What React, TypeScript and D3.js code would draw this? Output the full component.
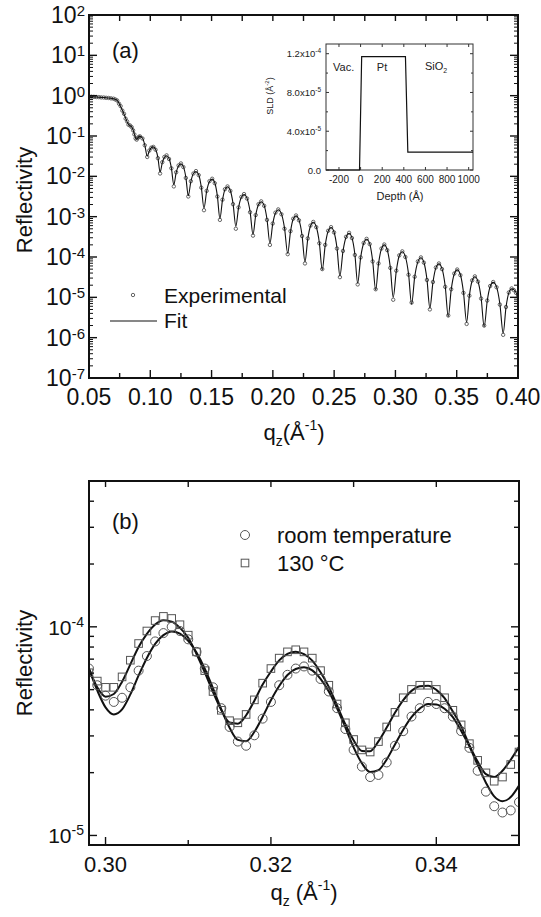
import React from "react";
import * as d3 from "d3";

const FONT = "'Liberation Sans', Arial, Helvetica, sans-serif";

// ---------------- Panel (a): reflectivity vs qz ----------------
const qA = [0.0500,0.0520,0.0540,0.0560,0.0580,0.0600,0.0620,0.0640,0.0660,0.0680,0.0700,0.0715,0.0730,
0.0745,0.0758,0.0772,0.0786,0.0799,0.0811,0.0822,0.0835,0.0848,0.0860,0.0870,0.0880,0.0889,0.0898,0.0907,
0.0916,0.0936,0.0955,0.0975,0.0992,0.1008,
0.1025,0.1043,0.1062,0.1080,0.1098,0.1115,
0.1133,0.1153,0.1172,0.1192,0.1211,0.1231,
0.1250,0.1270,0.1290,0.1310,0.1331,0.1352,
0.1373,0.1395,0.1416,0.1438,0.1460,0.1483,
0.1505,0.1526,0.1547,0.1568,0.1589,0.1609,
0.1630,0.1653,0.1675,0.1698,0.1720,0.1743,
0.1765,0.1789,0.1814,0.1838,0.1860,0.1883,
0.1905,0.1929,0.1952,0.1976,0.1999,0.2021,
0.2044,0.2070,0.2095,0.2121,0.2144,0.2166,
0.2189,0.2213,0.2238,0.2262,0.2285,0.2307,
0.2330,0.2354,0.2379,0.2403,0.2427,0.2451,
0.2475,0.2499,0.2523,0.2547,0.2572,0.2597,
0.2622,0.2645,0.2669,0.2692,0.2716,0.2741,
0.2765,0.2790,0.2814,0.2839,0.2862,0.2886,
0.2909,0.2933,0.2958,0.2982,0.3007,0.3031,
0.3056,0.3081,0.3107,0.3132,0.3157,0.3183,
0.3208,0.3232,0.3257,0.3281,0.3306,0.3330,
0.3355,0.3380,0.3406,0.3431,0.3455,0.3480,
0.3504,0.3530,0.3555,0.3581,0.3603,0.3626,
0.3648,0.3673,0.3699,0.3724,0.3749,0.3773,
0.3798,0.3825,0.3852,0.3879,0.3902,0.3925,
0.3948,0.3966,0.3984,0.4000];

// log10(reflectivity) of the fit
const fitLog10A = [-0.025,-0.028,-0.031,-0.034,-0.038,-0.042,-0.047,-0.052,-0.058,-0.066,-0.076,-0.092,-0.118,
-0.19,-0.27,-0.36,-0.46,-0.56,-0.65,-0.71,-0.745,-0.775,-0.85,-0.95,-1.05,-1.08,-1.05,-1.02,
-1.01,-1.05,-1.22,-1.50,-1.37,-1.29,
-1.27,-1.33,-1.53,-1.90,-1.66,-1.53,
-1.49,-1.56,-1.79,-2.21,-1.91,-1.74,
-1.69,-1.76,-2.02,-2.48,-2.13,-1.93,
-1.88,-1.96,-2.26,-2.79,-2.37,-2.13,
-2.07,-2.16,-2.48,-3.05,-2.59,-2.33,
-2.26,-2.35,-2.67,-3.24,-2.78,-2.52,
-2.45,-2.54,-2.87,-3.44,-2.97,-2.70,
-2.63,-2.72,-3.06,-3.66,-3.18,-2.91,
-2.83,-2.93,-3.28,-3.91,-3.37,-3.06,
-2.98,-3.08,-3.46,-4.12,-3.55,-3.23,
-3.14,-3.25,-3.64,-4.32,-3.71,-3.36,
-3.27,-3.38,-3.77,-4.47,-3.86,-3.51,
-3.41,-3.52,-3.93,-4.65,-4.02,-3.66,
-3.56,-3.67,-4.09,-4.82,-4.17,-3.80,
-3.70,-3.82,-4.25,-5.00,-4.35,-3.97,
-3.87,-3.99,-4.42,-5.17,-4.50,-4.12,
-4.02,-4.13,-4.55,-5.27,-4.63,-4.27,
-4.17,-4.29,-4.72,-5.48,-4.81,-4.42,
-4.32,-4.44,-4.87,-5.62,-4.97,-4.59,
-4.49,-4.60,-5.01,-5.73,-5.09,-4.73,
-4.63,-4.74,-5.16,-5.89,-5.25,-4.89,
-4.79,-4.81,-4.88,-4.98];

// log10(reflectivity) of the experimental points
const expLog10A = [-0.022,-0.027,-0.030,-0.035,-0.037,-0.043,-0.046,-0.053,-0.057,-0.067,-0.075,-0.094,-0.120,
-0.20,-0.26,-0.37,-0.45,-0.57,-0.64,-0.72,-0.74,-0.78,-0.86,-0.96,-1.06,-1.09,-1.05,-1.02,
-1.01,-1.06,-1.23,-1.52,-1.36,-1.29,
-1.27,-1.34,-1.55,-1.93,-1.65,-1.52,
-1.48,-1.57,-1.80,-2.25,-1.90,-1.73,
-1.68,-1.77,-2.04,-2.50,-2.12,-1.93,
-1.87,-1.97,-2.28,-2.84,-2.36,-2.12,
-2.06,-2.17,-2.50,-3.08,-2.58,-2.32,
-2.25,-2.36,-2.69,-3.30,-2.77,-2.51,
-2.44,-2.55,-2.89,-3.47,-2.96,-2.69,
-2.62,-2.73,-3.08,-3.70,-3.17,-2.90,
-2.82,-2.94,-3.30,-3.93,-3.36,-3.05,
-2.97,-3.09,-3.48,-4.16,-3.54,-3.22,
-3.13,-3.26,-3.66,-4.30,-3.70,-3.35,
-3.26,-3.39,-3.79,-4.50,-3.85,-3.50,
-3.40,-3.53,-3.95,-4.68,-4.01,-3.65,
-3.55,-3.68,-4.11,-4.80,-4.16,-3.79,
-3.69,-3.83,-4.27,-5.06,-4.34,-3.96,
-3.86,-4.00,-4.44,-5.13,-4.49,-4.11,
-4.01,-4.14,-4.57,-5.30,-4.62,-4.26,
-4.16,-4.30,-4.74,-5.45,-4.80,-4.41,
-4.31,-4.45,-4.89,-5.66,-4.96,-4.58,
-4.48,-4.61,-5.03,-5.70,-5.08,-4.72,
-4.62,-4.75,-5.18,-5.93,-5.24,-4.88,
-4.78,-4.82,-4.89,-4.97];

const xTicksA = [0.05, 0.10, 0.15, 0.20, 0.25, 0.30, 0.35, 0.40];
const xTickLabelsA = ["0.05", "0.10", "0.15", "0.20", "0.25", "0.30", "0.35", "0.40"];
const xMinorA = [0.075, 0.125, 0.175, 0.225, 0.275, 0.325, 0.375];
const yExponentsA = [2, 1, 0, -1, -2, -3, -4, -5, -6, -7];

// ---------------- Inset: SLD profile ----------------
const depthIn = [-320, -10, 10, 415, 437, 1040];
const sldIn = [0, 0, 1.17e-4, 1.17e-4, 1.85e-5, 1.85e-5];
const xTicksIn = [-200, 0, 200, 400, 600, 800, 1000];
const yTicksIn = [0, 4e-5, 8e-5, 1.2e-4];
const yTickMantIn = ["0.0", "4.0x10", "8.0x10", "1.2x10"];
const yTickExpIn = ["", "-5", "-5", "-4"];
const yMinorIn = [2e-5, 6e-5, 1e-4];

// ---------------- Panel (b) ----------------
const qB = [0.298,0.299,0.300,0.301,0.302,0.303,0.304,0.305,0.306,0.307,0.308,0.309,0.310,0.311,0.312,0.313,0.314,0.315,0.316,0.317,0.318,0.319,0.320,0.321,0.322,0.323,0.324,0.325,0.326,0.327,0.328,0.329,0.330,0.331,0.332,0.333,0.334,0.335,0.336,0.337,0.338,0.339,0.340,0.341,0.342,0.343,0.344,0.345,0.346,0.347,0.348,0.349,0.350];

const rtExpLog10B = [-4.20,-4.28,-4.33,-4.36,-4.34,-4.29,-4.21,-4.14,-4.07,-4.03,-4.00,-4.02,-4.06,-4.12,-4.20,-4.29,-4.39,-4.48,-4.55,-4.57,-4.52,-4.44,-4.36,-4.28,-4.23,-4.20,-4.19,-4.21,-4.25,-4.31,-4.39,-4.49,-4.59,-4.67,-4.72,-4.71,-4.65,-4.57,-4.50,-4.43,-4.39,-4.36,-4.37,-4.39,-4.43,-4.50,-4.58,-4.69,-4.79,-4.86,-4.89,-4.88,-4.84];

const htExpLog10B = [-4.22,-4.26,-4.29,-4.29,-4.24,-4.16,-4.08,-4.02,-3.97,-3.95,-3.96,-3.99,-4.04,-4.12,-4.21,-4.31,-4.40,-4.45,-4.46,-4.42,-4.35,-4.27,-4.20,-4.15,-4.12,-4.11,-4.12,-4.15,-4.21,-4.28,-4.37,-4.46,-4.54,-4.59,-4.60,-4.55,-4.48,-4.41,-4.34,-4.30,-4.28,-4.28,-4.30,-4.34,-4.40,-4.47,-4.56,-4.64,-4.70,-4.74,-4.72,-4.66,-4.60];

const rtFitLog10B = [-4.202,-4.305,-4.386,-4.420,-4.396,-4.324,-4.233,-4.149,-4.082,-4.040,-4.022,-4.033,-4.067,-4.123,-4.200,-4.295,-4.396,-4.484,-4.542,-4.548,-4.503,-4.431,-4.352,-4.284,-4.231,-4.202,-4.194,-4.209,-4.250,-4.310,-4.391,-4.482,-4.578,-4.654,-4.696,-4.687,-4.636,-4.564,-4.493,-4.433,-4.392,-4.370,-4.372,-4.393,-4.433,-4.498,-4.573,-4.662,-4.747,-4.813,-4.836,-4.816,-4.761];

const htFitLog10B = [-4.200,-4.290,-4.335,-4.322,-4.263,-4.180,-4.097,-4.034,-3.989,-3.968,-3.975,-4.005,-4.052,-4.130,-4.218,-4.313,-4.399,-4.459,-4.464,-4.424,-4.354,-4.277,-4.214,-4.161,-4.130,-4.119,-4.131,-4.162,-4.218,-4.288,-4.377,-4.467,-4.544,-4.595,-4.596,-4.549,-4.483,-4.412,-4.351,-4.307,-4.285,-4.282,-4.302,-4.342,-4.406,-4.476,-4.567,-4.646,-4.706,-4.720,-4.690,-4.637,-4.575];

const xTicksB = [0.30, 0.32, 0.34];
const xTickLabelsB = ["0.30", "0.32", "0.34"];
const xMinorB = [0.31, 0.33];
const yExponentsB = [-4, -5];
const legendB = ["room temperature", "130 \u00B0C"];

function logMinor(lo: number, hi: number) {
  const out: number[] = [];
  for (let e = Math.floor(Math.log10(lo)) - 1; e <= Math.ceil(Math.log10(hi)); e++) {
    for (let k = 2; k <= 9; k++) {
      const v = k * Math.pow(10, e);
      if (v > lo * 1.0001 && v < hi * 0.9999) out.push(v);
    }
  }
  return out;
}

export default function App() {
  const lineMono = d3.line<[number, number]>().curve(d3.curveMonotoneX);
  const lineLin = d3.line<[number, number]>();

  // panel a
  const aL = 89, aR = 518, aT = 15, aB = 378;
  const xA = d3.scaleLinear().domain([0.05, 0.4]).range([aL, aR]);
  const yA = d3.scaleLog().domain([1e-7, 1e2]).range([aB, aT]);
  const fitPathA = lineMono(qA.map((q, i) => [xA(q), yA(Math.pow(10, fitLog10A[i]))] as [number, number])) || "";
  const minorA = logMinor(1e-7, 1e2);

  // inset
  const iL = 326, iR = 473, iT = 44, iB = 170;
  const xI = d3.scaleLinear().domain([-320, 1040]).range([iL, iR]);
  const yI = d3.scaleLinear().domain([0, 1.3e-4]).range([iB, iT]);
  const sldPath = lineLin(depthIn.map((d, i) => [xI(d), yI(sldIn[i])] as [number, number])) || "";

  // panel b
  const bL = 89, bR = 519, bT = 481, bB = 845;
  const xB = d3.scaleLinear().domain([0.298, 0.35]).range([bL, bR]);
  const yB = d3.scaleLog().domain([9e-6, 5e-4]).range([bB, bT]);
  const rtFitPath = lineMono(qB.map((q, i) => [xB(q), yB(Math.pow(10, rtFitLog10B[i]))] as [number, number])) || "";
  const htFitPath = lineMono(qB.map((q, i) => [xB(q), yB(Math.pow(10, htFitLog10B[i]))] as [number, number])) || "";
  const minorB = logMinor(9e-6, 5e-4);

  const tk = { stroke: "#111", strokeWidth: 1.4 };

  return (
    <svg width={541} height={917} viewBox="0 0 541 917"
      style={{ position: "absolute", left: 0, top: 0, background: "#fff" }}
      fontFamily={FONT}>
      <defs>
        <clipPath id="clipA"><rect x={aL} y={aT} width={aR - aL} height={aB - aT} /></clipPath>
        <clipPath id="clipB"><rect x={bL} y={bT} width={bR - bL} height={bB - bT} /></clipPath>
      </defs>
      <rect x={0} y={0} width={541} height={917} fill="#fff" />

      {/* ============ PANEL A ============ */}
      <g clipPath="url(#clipA)">
        {qA.map((q, i) => (
          <circle key={"ea" + i} cx={xA(q)} cy={yA(Math.pow(10, expLog10A[i]))} r={1.7}
            fill="none" stroke="#555" strokeWidth={0.9} />
        ))}
        <path d={fitPathA} fill="none" stroke="#111" strokeWidth={1.1} />
      </g>

      {/* ticks A */}
      {xTicksA.map((t, i) => (
        <g key={"xta" + i}>
          <line x1={xA(t)} x2={xA(t)} y1={aB} y2={aB - 8} {...tk} />
          <line x1={xA(t)} x2={xA(t)} y1={aT} y2={aT + 6} {...tk} />
          <text x={xA(t)} y={405} fontSize={23} textAnchor="middle" fill="#111">{xTickLabelsA[i]}</text>
        </g>
      ))}
      {xMinorA.map((t, i) => (
        <g key={"xma" + i}>
          <line x1={xA(t)} x2={xA(t)} y1={aB} y2={aB - 5} {...tk} />
          <line x1={xA(t)} x2={xA(t)} y1={aT} y2={aT + 6} {...tk} />
        </g>
      ))}
      {yExponentsA.map((e, i) => {
        const yy = yA(Math.pow(10, e));
        return (
          <g key={"yta" + i}>
            <line x1={aL} x2={aL + 8} y1={yy} y2={yy} {...tk} />
            <line x1={aR} x2={aR - 8} y1={yy} y2={yy} {...tk} />
            <text x={85} y={yy + 8} fontSize={23} textAnchor="end" fill="#111">
              10<tspan fontSize={15} dy={-7}>{String(e)}</tspan>
            </text>
          </g>
        );
      })}
      {minorA.map((v, i) => (
        <g key={"yma" + i}>
          <line x1={aL} x2={aL + 4} y1={yA(v)} y2={yA(v)} stroke="#111" strokeWidth={1} />
          <line x1={aR} x2={aR - 4} y1={yA(v)} y2={yA(v)} stroke="#111" strokeWidth={1} />
        </g>
      ))}
      <rect x={aL} y={aT} width={aR - aL} height={aB - aT} fill="none" stroke="#111" strokeWidth={2} />

      <text x={112} y={58} fontSize={22} fill="#111">(a)</text>

      {/* legend A */}
      <circle cx={133} cy={295} r={1.7} fill="none" stroke="#555" strokeWidth={0.9} />
      <text x={164} y={303} fontSize={21} fill="#111">Experimental</text>
      <line x1={110} x2={157} y1={321} y2={321} stroke="#111" strokeWidth={1.1} />
      <text x={164} y={328} fontSize={21} fill="#111">Fit</text>

      {/* axis titles A */}
      <text transform={`translate(32,200) rotate(-90)`} fontSize={22} textAnchor="middle" fill="#111">Reflectivity</text>
      <text x={294} y={440} fontSize={22} textAnchor="middle" fill="#111">
        q<tspan fontSize={14} dy={6}>z</tspan><tspan dy={-6}>(Å</tspan><tspan fontSize={14} dy={-10}>-1</tspan><tspan dy={10}>)</tspan>
      </text>

      {/* ============ INSET ============ */}
      <rect x={iL} y={iT} width={iR - iL} height={iB - iT} fill="#fff" stroke="#333" strokeWidth={1} />
      <path d={sldPath} fill="none" stroke="#111" strokeWidth={1.2} />
      {xTicksIn.map((t, i) => (
        <g key={"xti" + i}>
          <line x1={xI(t)} x2={xI(t)} y1={iB} y2={iB - 3} stroke="#333" strokeWidth={1} />
          <line x1={xI(t)} x2={xI(t)} y1={iT} y2={iT + 3} stroke="#333" strokeWidth={1} />
          <text x={xI(t)} y={183} fontSize={10} textAnchor="middle" fill="#222">{String(t)}</text>
        </g>
      ))}
      {yTicksIn.map((t, i) => (
        <g key={"yti" + i}>
          <line x1={iL} x2={iL + 3} y1={yI(t)} y2={yI(t)} stroke="#333" strokeWidth={1} />
          <line x1={iR} x2={iR - 3} y1={yI(t)} y2={yI(t)} stroke="#333" strokeWidth={1} />
          <text x={321} y={yI(t) + 3.5} fontSize={9.5} textAnchor="end" fill="#222">
            {yTickMantIn[i]}{yTickExpIn[i] ? <tspan fontSize={6.5} dy={-4}>{yTickExpIn[i]}</tspan> : null}
          </text>
        </g>
      ))}
      {yMinorIn.map((t, i) => (
        <g key={"ymi" + i}>
          <line x1={iL} x2={iL + 2} y1={yI(t)} y2={yI(t)} stroke="#333" strokeWidth={1} />
          <line x1={iR} x2={iR - 2} y1={yI(t)} y2={yI(t)} stroke="#333" strokeWidth={1} />
        </g>
      ))}
      <text x={333} y={71} fontSize={11} fill="#222">Vac.</text>
      <text x={382} y={71} fontSize={11} textAnchor="middle" fill="#222">Pt</text>
      <text x={425} y={70} fontSize={11} fill="#222">SiO<tspan fontSize={7} dy={3}>2</tspan></text>
      <text transform={`translate(273,96) rotate(-90)`} fontSize={9} textAnchor="middle" fill="#222">
        SLD (Å<tspan fontSize={6} dy={-4}>-2</tspan><tspan dy={4}>)</tspan>
      </text>
      <text x={400} y={200} fontSize={11} textAnchor="middle" fill="#222">Depth (Å)</text>

      {/* ============ PANEL B ============ */}
      <g clipPath="url(#clipB)">
        <path d={htFitPath} fill="none" stroke="#111" strokeWidth={2} />
        <path d={rtFitPath} fill="none" stroke="#111" strokeWidth={2} />
        {qB.map((q, i) => {
          const cx = xB(q), cy = yB(Math.pow(10, htExpLog10B[i]));
          return <rect key={"sq" + i} x={cx - 3.8} y={cy - 3.8} width={7.6} height={7.6}
            fill="none" stroke="#555" strokeWidth={1} />;
        })}
        {qB.map((q, i) => (
          <circle key={"ci" + i} cx={xB(q)} cy={yB(Math.pow(10, rtExpLog10B[i]))} r={4.5}
            fill="none" stroke="#555" strokeWidth={1} />
        ))}
      </g>

      {xTicksB.map((t, i) => (
        <g key={"xtb" + i}>
          <line x1={xB(t)} x2={xB(t)} y1={bB} y2={bB - 8} {...tk} />
          <line x1={xB(t)} x2={xB(t)} y1={bT} y2={bT + 6} {...tk} />
          <text x={xB(t)} y={872} fontSize={22} textAnchor="middle" fill="#111">{xTickLabelsB[i]}</text>
        </g>
      ))}
      {xMinorB.map((t, i) => (
        <g key={"xmb" + i}>
          <line x1={xB(t)} x2={xB(t)} y1={bB} y2={bB - 5} {...tk} />
          <line x1={xB(t)} x2={xB(t)} y1={bT} y2={bT + 6} {...tk} />
        </g>
      ))}
      {yExponentsB.map((e, i) => {
        const yy = yB(Math.pow(10, e));
        return (
          <g key={"ytb" + i}>
            <line x1={bL} x2={bL + 8} y1={yy} y2={yy} {...tk} />
            <line x1={bR} x2={bR - 8} y1={yy} y2={yy} {...tk} />
            <text x={84} y={yy + 8} fontSize={21} textAnchor="end" fill="#111">
              10<tspan fontSize={14} dy={-8}>{String(e)}</tspan>
            </text>
          </g>
        );
      })}
      {minorB.map((v, i) => (
        <g key={"ymb" + i}>
          <line x1={bL} x2={bL + 5} y1={yB(v)} y2={yB(v)} {...tk} />
          <line x1={bR} x2={bR - 5} y1={yB(v)} y2={yB(v)} {...tk} />
        </g>
      ))}
      <rect x={bL} y={bT} width={bR - bL} height={bB - bT} fill="none" stroke="#111" strokeWidth={2} />

      <text x={112} y={529} fontSize={22} fill="#111">(b)</text>

      {/* legend B */}
      <circle cx={245} cy={535} r={4.5} fill="none" stroke="#555" strokeWidth={1} />
      <text x={277} y={543} fontSize={22} fill="#111">{legendB[0]}</text>
      <rect x={245 - 3.8} y={563 - 3.8} width={7.6} height={7.6} fill="none" stroke="#555" strokeWidth={1} />
      <text x={277} y={571} fontSize={22} fill="#111">{legendB[1]}</text>

      <text transform={`translate(32,663) rotate(-90)`} fontSize={22} textAnchor="middle" fill="#111">Reflectivity</text>
      <text x={304} y={900} fontSize={22} textAnchor="middle" fill="#111">
        q<tspan fontSize={14} dy={6}>z</tspan><tspan dy={-6}> (Å</tspan><tspan fontSize={14} dy={-10}>-1</tspan><tspan dy={10}>)</tspan>
      </text>
    </svg>
  );
}
